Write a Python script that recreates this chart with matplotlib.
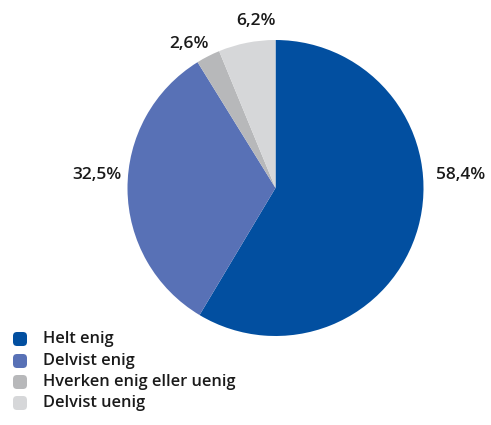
import matplotlib
matplotlib.use("Agg")
import matplotlib.pyplot as plt
from matplotlib.patches import FancyBboxPatch

categories = ["Helt enig", "Delvist enig", "Hverken enig eller uenig", "Delvist uenig"]
values = [58.4, 32.5, 2.6, 6.2]
labels = ["58,4%", "32,5%", "2,6%", "6,2%"]
colors = ["#024fa0", "#5871b6", "#b7b8ba", "#d6d7d9"]

W, H = 491, 425
fig = plt.figure(figsize=(W / 100, H / 100), dpi=100)
ax = fig.add_axes([0, 0, 1, 1])

cx, cy, r = 275.5, H - 188, 148
ax.pie(values, colors=colors, startangle=90, counterclock=False,
       center=(cx, cy), radius=r, frame=True,
       wedgeprops=dict(linewidth=0))
ax.set_xlim(0, W)
ax.set_ylim(0, H)
ax.set_aspect("equal")
ax.axis("off")

font = dict(family=["Open Sans", "DejaVu Sans"], fontweight="semibold", color="#1a1a1a")
label_pos = [(461, H - 175), (97, H - 175), (189, H - 44), (256, H - 21)]
for lab, (x, y) in zip(labels, label_pos):
    ax.text(x, y, lab, ha="center", va="center", fontsize=12.5, **font)

leg_y = [339, 361, 382, 403]
for cat, col, y in zip(categories, colors, leg_y):
    s = 14
    box = FancyBboxPatch((20 - s / 2 + 2, H - y - s / 2 + 2), s - 4, s - 4,
                         boxstyle="round,pad=2,rounding_size=4",
                         facecolor=col, edgecolor="none")
    ax.add_patch(box)
    ax.text(43, H - y, cat, ha="left", va="center", fontsize=11.8, **font)

fig.savefig("out.png", dpi=100)
